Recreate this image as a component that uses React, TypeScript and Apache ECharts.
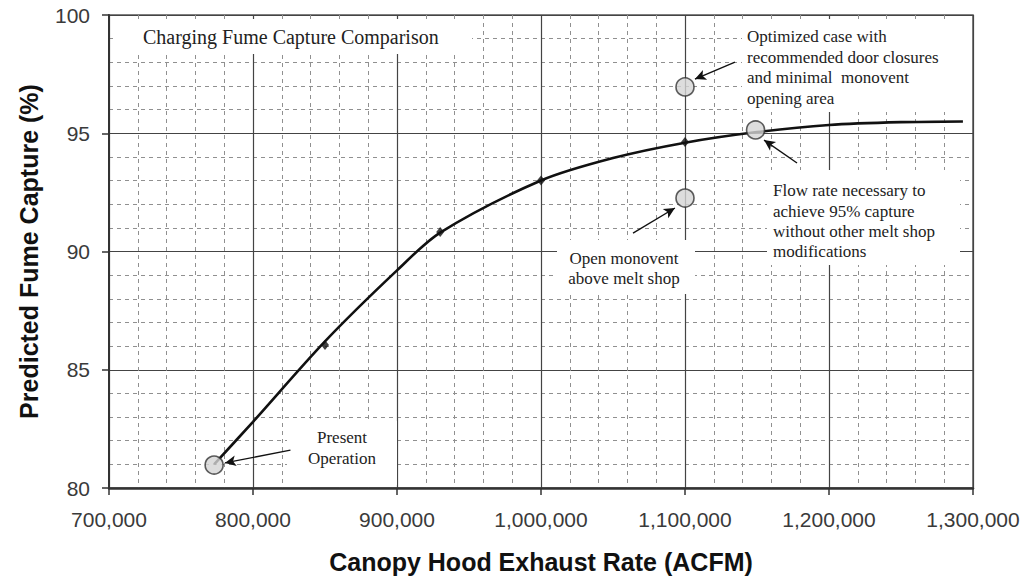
import React, { useEffect, useRef } from "react";
import * as echarts from "echarts";

// ---- data ----
const xTickMin = 700000;
const xTickMax = 1300000;
const yTickMin = 80;
const yTickMax = 100;

// fitted capture curve
const curveX = [773000, 800000, 850000, 900000, 930000, 1000000, 1050000, 1100000, 1150000, 1200000, 1250000, 1293000];
const curveY = [81.0, 82.8, 86.2, 89.2, 90.8, 93.0, 93.95, 94.6, 95.05, 95.35, 95.47, 95.5];

// model run points (small diamonds)
const diamondX = [850000, 930000, 1000000, 1100000];
const diamondY = [86.05, 90.82, 93.0, 94.63];

// highlighted cases (grey circles)
const caseNames = ["Present Operation", "Optimized case", "Open monovent", "95% capture flow"];
const caseX = [773000, 1100000, 1100000, 1149000];
const caseY = [80.97, 96.96, 92.26, 95.14];

// annotation arrows: tail -> head (data coordinates)
const arrowTailX = [826000, 1134700, 1063900, 1177800];
const arrowTailY = [81.6, 98.01, 90.78, 93.74];
const arrowHeadX = [780500, 1106900, 1093000, 1154900];
const arrowHeadY = [81.06, 97.29, 91.84, 94.71];

const titleText = "Charging Fume Capture Comparison";
const optimizedLines = ["Optimized case with", "recommended door closures", "and minimal  monovent", "opening area"];
const flowLines = ["Flow rate necessary to", "achieve 95% capture", "without other melt shop", "modifications"];
const openLines = ["Open monovent", "above melt shop"];
const presentLines = ["Present", "Operation"];

const xName = "Canopy Hood Exhaust Rate (ACFM)";
const yName = "Predicted Fume Capture (%)";

const SERIF = "'Liberation Serif', 'Times New Roman', serif";
const SANS = "'Liberation Sans', Arial, sans-serif";

export default function App() {
  const ref = useRef<HTMLDivElement>(null);

  useEffect(() => {
    const chart = echarts.init(ref.current!, null, { renderer: "svg" });

    const curveData = curveX.map((x, i) => [x, curveY[i]]);
    const diamondData = diamondX.map((x, i) => [x, diamondY[i]]);
    const caseData = caseX.map((x, i) => ({ name: caseNames[i], value: [x, caseY[i]] }));
    const arrowData = arrowTailX.map((x, i) => [
      { coord: [x, arrowTailY[i]] },
      { coord: [arrowHeadX[i], arrowHeadY[i]] },
    ]);

    const textLines = (lines: string[], x: number, ys: number[], align: string, size: number) =>
      lines.map((t, i) => ({
        type: "text",
        x,
        y: ys[i],
        z: 3,
        silent: true,
        style: {
          text: t,
          fontSize: size,
          fontFamily: SERIF,
          fill: "#222",
          align,
          verticalAlign: "middle",
        },
      }));

    const box = (x: number, y: number, w: number, h: number) => ({
      type: "rect",
      z: 1,
      silent: true,
      shape: { x, y, width: w, height: h },
      style: { fill: "#ffffff" },
    });

    chart.setOption({
      animation: false,
      backgroundColor: "#ffffff",
      grid: {
        left: 109,
        right: 50,
        top: 15,
        bottom: 92,
        show: true,
        borderColor: "#555",
        borderWidth: 1.5,
        backgroundColor: "transparent",
      },
      xAxis: {
        type: "value",
        min: xTickMin,
        max: xTickMax,
        interval: 100000,
        name: xName,
        nameLocation: "middle",
        nameGap: 61,
        nameTextStyle: { fontFamily: SANS, fontSize: 25, fontWeight: "bold", color: "#111" },
        axisLine: { show: true, lineStyle: { color: "#333", width: 2.5 } },
        axisTick: { show: true, length: 7, inside: false, lineStyle: { color: "#333", width: 1.5 } },
        axisLabel: {
          margin: 21,
          fontFamily: SANS,
          fontSize: 21,
          color: "#3a3a3a",
          formatter: (v: number) => v.toLocaleString("en-US"),
        },
        splitLine: { show: true, lineStyle: { color: "#444", width: 1.2, type: "solid" } },
        minorTick: { show: false, splitNumber: 5 },
        minorSplitLine: { show: true, lineStyle: { color: "#909090", width: 1, type: [4, 4] } },
      },
      yAxis: {
        type: "value",
        min: yTickMin,
        max: yTickMax,
        interval: 5,
        name: yName,
        nameLocation: "middle",
        nameGap: 68,
        nameRotate: 90,
        nameTextStyle: { fontFamily: SANS, fontSize: 25, fontWeight: "bold", color: "#111" },
        axisLine: { show: true, lineStyle: { color: "#333", width: 2 } },
        axisTick: { show: true, length: 7, inside: false, lineStyle: { color: "#333", width: 1.5 } },
        axisLabel: { margin: 19, fontFamily: SANS, fontSize: 21, color: "#3a3a3a" },
        splitLine: { show: true, lineStyle: { color: "#444", width: 1.2, type: "solid" } },
        minorTick: { show: false, splitNumber: 5 },
        minorSplitLine: { show: true, lineStyle: { color: "#909090", width: 1, type: [4, 4] } },
      },
      series: [
        {
          name: "curve",
          type: "line",
          data: curveData,
          smooth: 0.3,
          showSymbol: false,
          symbol: "none",
          lineStyle: { color: "#111", width: 2.6 },
          z: 2,
          silent: true,
        },
        {
          name: "runs",
          type: "scatter",
          data: diamondData,
          symbol: "diamond",
          symbolSize: [8, 10],
          itemStyle: { color: "#111" },
          z: 3,
          silent: true,
        },
        {
          name: "cases",
          type: "scatter",
          data: caseData,
          symbol: "circle",
          symbolSize: 18,
          itemStyle: { color: "#d4d4d4", borderColor: "#333", borderWidth: 1.6 },
          z: 4,
          silent: true,
          markLine: {
            silent: true,
            symbol: ["none", "arrow"],
            symbolSize: [8, 11],
            label: { show: false },
            lineStyle: { color: "#111", width: 1.4, type: "solid" },
            data: arrowData,
          },
        },
      ],
      graphic: [
        box(113, 19, 359, 35),
        box(742, 19, 227, 93),
        box(767, 170, 193, 95),
        box(557, 240, 138, 54),
        box(287, 421, 110, 64),
        ...textLines([titleText], 143, [37], "left", 20),
        ...textLines(optimizedLines, 747, [36, 57, 77.5, 98], "left", 17),
        ...textLines(flowLines, 773, [190, 211, 231.5, 251.5], "left", 17),
        ...textLines(openLines, 624, [258, 278], "center", 17),
        ...textLines(presentLines, 342, [437, 458], "center", 17),
      ],
    });

    return () => chart.dispose();
  }, []);

  return (
    <div
      ref={ref}
      style={{ position: "fixed", left: 0, top: 0, width: 1023, height: 580, background: "#fff" }}
    />
  );
}
